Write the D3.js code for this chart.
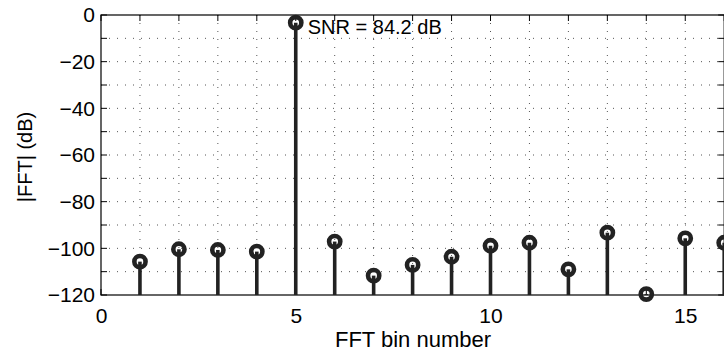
<!DOCTYPE html>
<html>
<head>
<meta charset="utf-8">
<script src="https://cdn.jsdelivr.net/npm/d3@7"></script>
<style>
  body { margin: 0; background: #fff; }
  svg text { font-family: "Liberation Sans", Arial, Helvetica, sans-serif; fill: #000; }
</style>
</head>
<body>
<div id="chart"></div>
<script>
// FFT bins and magnitudes (dB)
var bins = [1, 2, 3, 4, 5, 6, 7, 8, 9, 10, 11, 12, 13, 14, 15, 16];
var magDb = [-105.7, -100.4, -100.7, -101.4, -3.3, -97.1, -111.7, -107.1, -103.6, -98.9, -97.6, -109.0, -93.3, -119.6, -95.7, -97.6];

var xTicks = [0, 5, 10, 15];
var yTicks = [0, -20, -40, -60, -80, -100, -120];
var xMinor = d3.range(0, 17, 1);
var yMinor = d3.range(-120, 1, 10);

var snrLabel = "SNR = 84.2 dB";
var xLabel = "FFT bin number";
var yLabel = "|FFT| (dB)";

var width = 724, height = 352,
    margin = {top: 15, right: -0.2, bottom: 57, left: 101};
var w = width - margin.left - margin.right,
    h = height - margin.top - margin.bottom;

var svg = d3.select("#chart").append("svg")
    .attr("width", width)
    .attr("height", height);

var g = svg.append("g").attr("transform", "translate(" + margin.left + "," + margin.top + ")");

var x = d3.scaleLinear().domain([0, 16]).range([0, w]);
var y = d3.scaleLinear().domain([-120, 0]).range([h, 0]);

var ink = "#222";

// dotted grid
g.append("g").selectAll("line")
    .data(xMinor.filter(function(d) { return d > 0 && d < 16; }))
  .enter().append("line")
    .attr("x1", function(d) { return x(d); })
    .attr("x2", function(d) { return x(d); })
    .attr("y1", 0).attr("y2", h)
    .attr("stroke", "#555").attr("stroke-width", 1)
    .attr("stroke-dasharray", "1,7");

g.append("g").selectAll("line")
    .data(yMinor.filter(function(d) { return d > -120 && d < 0; }))
  .enter().append("line")
    .attr("x1", 0).attr("x2", w)
    .attr("y1", function(d) { return y(d); })
    .attr("y2", function(d) { return y(d); })
    .attr("stroke", "#555").attr("stroke-width", 1)
    .attr("stroke-dasharray", "1,7");

// inward ticks on all four sides
var tk = 6;
var ticks = g.append("g").attr("stroke", "#000").attr("stroke-width", 1);
xMinor.forEach(function(d) {
  ticks.append("line").attr("x1", x(d)).attr("x2", x(d)).attr("y1", h).attr("y2", h - tk);
  ticks.append("line").attr("x1", x(d)).attr("x2", x(d)).attr("y1", 0).attr("y2", tk);
});
yMinor.forEach(function(d) {
  ticks.append("line").attr("x1", 0).attr("x2", tk).attr("y1", y(d)).attr("y2", y(d));
  ticks.append("line").attr("x1", w).attr("x2", w - tk).attr("y1", y(d)).attr("y2", y(d));
});

// box
g.append("rect")
    .attr("x", 0).attr("y", 0).attr("width", w).attr("height", h)
    .attr("fill", "none").attr("stroke", "#000").attr("stroke-width", 1.2);

// tick labels
g.append("g")
    .attr("transform", "translate(0," + h + ")")
    .call(d3.axisBottom(x).tickValues(xTicks).tickSize(0).tickPadding(13))
    .call(function(a) {
      a.select(".domain").remove();
      a.selectAll("text").attr("font-size", 21).attr("font-family", null);
    });

g.append("g")
    .call(d3.axisLeft(y).tickValues(yTicks).tickSize(0).tickPadding(6))
    .call(function(a) {
      a.select(".domain").remove();
      a.selectAll("text").attr("font-size", 21).attr("font-family", null);
    });

// stems
var stems = g.append("g").selectAll("g")
    .data(bins)
  .enter().append("g");

stems.append("line")
    .attr("x1", function(d) { return x(d); })
    .attr("x2", function(d) { return x(d); })
    .attr("y1", y(-120))
    .attr("y2", function(d, i) { return y(magDb[i]); })
    .attr("stroke", ink).attr("stroke-width", 3.6);

stems.append("circle")
    .attr("cx", function(d) { return x(d); })
    .attr("cy", function(d, i) { return y(magDb[i]); })
    .attr("r", 5.6)
    .attr("fill", "none")
    .attr("stroke", ink).attr("stroke-width", 4.6);

// annotation
g.append("text")
    .attr("x", x(5) + 12)
    .attr("y", y(magDb[4]) + 11)
    .attr("font-size", 20)
    .text(snrLabel);

// axis titles
svg.append("text")
    .attr("x", 413)
    .attr("y", 346.5)
    .attr("text-anchor", "middle")
    .attr("font-size", 22)
    .text(xLabel);

svg.append("text")
    .attr("transform", "translate(" + 32 + "," + 157 + ") rotate(-90)")
    .attr("text-anchor", "middle")
    .attr("font-size", 20)
    .text(yLabel);
</script>
</body>
</html>
